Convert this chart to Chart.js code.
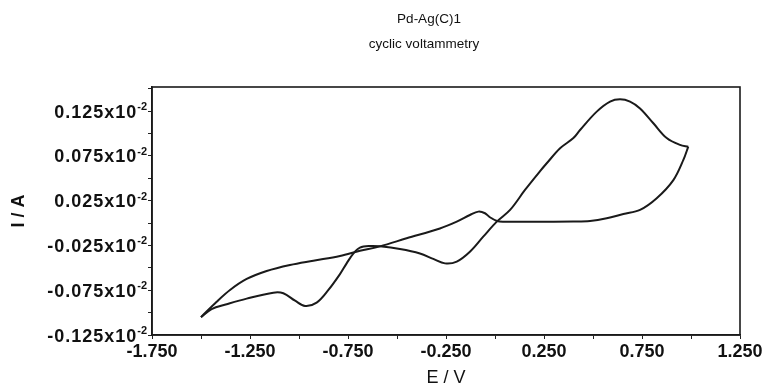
<!DOCTYPE html>
<html>
<head>
<meta charset="utf-8">
<script src="https://cdn.jsdelivr.net/npm/chart.js@4/dist/chart.umd.min.js"></script>
<style>
  html, body { margin: 0; padding: 0; background: #fff; }
  #wrap { width: 766px; height: 389px; position: relative; }
</style>
</head>
<body>
<div id="wrap"><canvas id="c" width="766" height="389"></canvas></div>
<script>
// ---- data (E in V, I in units of 10^-2 A) ----
const titleLines = ['Pd-Ag(C)1', 'cyclic voltammetry'];
const xTitle = 'E / V';
const yTitle = 'I / A';

// forward sweep: lower-left vertex -> right vertex
const fwdE = [-1.500, -1.420, -1.352, -1.267, -1.165, -1.046, -0.927, -0.791, -0.689, -0.587,
              -0.451, -0.281, -0.195, -0.128, -0.085, -0.051, -0.026, 0.010, 0.040, 0.200,
               0.400, 0.485, 0.570, 0.655, 0.740, 0.825, 0.910, 0.961, 0.986];
const fwdI = [-0.105, -0.0878, -0.0747, -0.0624, -0.0535, -0.0468, -0.042, -0.0367, -0.031, -0.026,
              -0.017, -0.006, 0.0016, 0.009, 0.0128, 0.011, 0.0065, 0.0024, 0.0015, 0.0015,
               0.0018, 0.0024, 0.0054, 0.0102, 0.0147, 0.0277, 0.048, 0.0705, 0.0854];

// reverse sweep: right vertex -> lower-left vertex
const revE = [0.986, 0.944, 0.876, 0.808, 0.740, 0.689, 0.638, 0.587, 0.519, 0.434,
              0.400, 0.332, 0.264, 0.230, 0.153, 0.077, 0.009, -0.060, -0.128, -0.195,
             -0.255, -0.315, -0.383, -0.485, -0.587, -0.638, -0.689, -0.723, -0.757, -0.791,
             -0.850, -0.910, -0.969, -1.020, -1.080, -1.131, -1.267, -1.369, -1.446, -1.500];
const revI = [0.0854, 0.0873, 0.095, 0.1115, 0.128, 0.1357, 0.1383, 0.1357, 0.1245, 0.104,
              0.095, 0.0836, 0.0668, 0.058, 0.037, 0.0147, 0.0016, -0.0152, -0.032, -0.043,
             -0.045, -0.040, -0.034, -0.029, -0.026, -0.0256, -0.0275, -0.034, -0.045, -0.057,
             -0.0747, -0.0889, -0.0926, -0.0867, -0.0784, -0.0777, -0.0844, -0.0907, -0.096, -0.105];

// ticks
const xTickValues = [-1.75, -1.5, -1.25, -1.0, -0.75, -0.5, -0.25, 0, 0.25, 0.5, 0.75, 1.0, 1.25];
const xLabelValues = [-1.75, -1.25, -0.75, -0.25, 0.25, 0.75, 1.25];
const xTickLabels = ['-1.750', '-1.250', '-0.750', '-0.250', '0.250', '0.750', '1.250'];
const yTickValues = [-0.125, -0.1, -0.075, -0.05, -0.025, 0, 0.025, 0.05, 0.075, 0.1, 0.125, 0.15];
const yLabelValues = [-0.125, -0.075, -0.025, 0.025, 0.075, 0.125];
const yTickLabels = ['-0.125x10', '-0.075x10', '-0.025x10', '0.025x10', '0.075x10', '0.125x10'];
const yTickExponent = '-2';

const toPts = (xs, ys) => xs.map((x, i) => ({x: x, y: ys[i]}));
const labelFor = (vals, labels) => (v) => {
  const i = vals.findIndex(t => Math.abs(t - v) < 1e-6);
  return i >= 0 ? labels[i] : '';
};

const FONT = '"Liberation Sans", Arial, sans-serif';

const framePlugin = {
  id: 'frame',
  afterDraw(chart) {
    const {ctx, chartArea: a} = chart;
    ctx.save();
    ctx.strokeStyle = '#1a1a1a';
    ctx.lineWidth = 1.6;
    ctx.strokeRect(a.left, a.top, a.right - a.left, a.bottom - a.top);
    ctx.restore();
  }
};

// titles and y tick labels with superscript exponent
const textPlugin = {
  id: 'texts',
  afterDraw(chart) {
    const ctx = chart.ctx;
    ctx.save();
    ctx.fillStyle = '#111';
    ctx.textAlign = 'center';
    ctx.textBaseline = 'middle';
    ctx.font = '13.5px ' + FONT;
    ctx.fillText(titleLines[0], 429, 19);
    ctx.fillText(titleLines[1], 424, 44);

    const ys = chart.scales.y;
    const right = ys.right - 5;
    ctx.textAlign = 'right';
    ctx.textBaseline = 'alphabetic';
    ctx.font = 'bold 11px ' + FONT;
    const supW = ctx.measureText(yTickExponent).width;
    yLabelValues.forEach((v, i) => {
      const py = ys.getPixelForValue(v);
      ctx.font = 'bold 18px ' + FONT;
      if ('letterSpacing' in ctx) ctx.letterSpacing = '1px';
      ctx.fillText(yTickLabels[i], right - supW, py + 6.5);
      if ('letterSpacing' in ctx) ctx.letterSpacing = '0px';
      ctx.font = 'bold 11px ' + FONT;
      ctx.fillText(yTickExponent, right, py - 1);
    });
    ctx.restore();
  }
};

const lineStyle = {
  borderColor: '#1a1a1a',
  borderWidth: 2,
  pointRadius: 0,
  tension: 0.35,
  fill: false,
  showLine: true
};

new Chart(document.getElementById('c'), {
  type: 'scatter',
  data: {
    datasets: [
      Object.assign({label: 'forward', data: toPts(fwdE, fwdI)}, lineStyle),
      Object.assign({label: 'reverse', data: toPts(revE, revI)}, lineStyle)
    ]
  },
  options: {
    responsive: false,
    animation: false,
    devicePixelRatio: 1,
    layout: { padding: { top: 87, right: 26, left: 0, bottom: 0 } },
    plugins: { legend: { display: false }, tooltip: { enabled: false }, title: { display: false } },
    scales: {
      x: {
        type: 'linear', min: -1.75, max: 1.25,
        afterBuildTicks: s => { s.ticks = xTickValues.map(v => ({value: v})); },
        afterFit: s => { s.height = 54; },
        grid: { display: true, drawOnChartArea: false, drawTicks: true, tickLength: 4, color: '#222', lineWidth: 1 },
        border: { display: true, color: '#1a1a1a', width: 1.6 },
        ticks: {
          autoSkip: false, maxRotation: 0, padding: 2, color: '#111',
          font: { family: FONT, size: 18, weight: 'bold' },
          callback: labelFor(xLabelValues, xTickLabels)
        },
        title: { display: true, text: xTitle, color: '#111', padding: { top: 0, bottom: 0 },
                 font: { family: FONT, size: 18 } }
      },
      y: {
        type: 'linear', min: -0.125, max: 0.152,
        afterBuildTicks: s => { s.ticks = yTickValues.map(v => ({value: v})); },
        afterFit: s => { s.width = 152; },
        grid: { display: true, drawOnChartArea: false, drawTicks: true, tickLength: 4, color: '#222', lineWidth: 1 },
        border: { display: true, color: '#1a1a1a', width: 1.6 },
        ticks: { display: false },
        title: { display: true, text: yTitle, color: '#111', padding: { top: 8, bottom: 0 },
                 font: { family: FONT, size: 18, weight: 'bold' } }
      }
    }
  },
  plugins: [framePlugin, textPlugin]
});
</script>
</body>
</html>
